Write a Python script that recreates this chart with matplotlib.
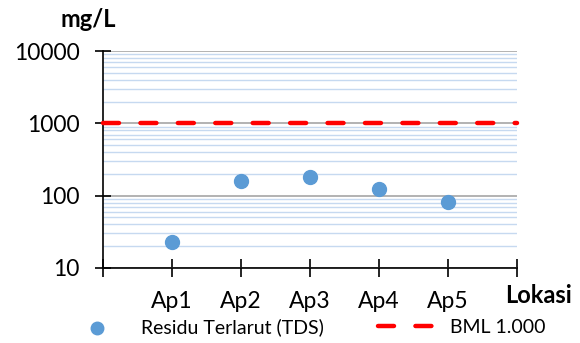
import numpy as np
import matplotlib.pyplot as plt
from matplotlib.ticker import LogLocator, NullFormatter, FixedLocator

lokasi = ["Ap1", "Ap2", "Ap3", "Ap4", "Ap5"]
tds = [23, 160, 180, 123, 82]      # mg/L
bml = 1000                         # baku mutu
x_edges = [0, 6]

plt.rcParams["font.family"] = ["Lato", "DejaVu Sans"]

fig = plt.figure(figsize=(5.8, 3.43), dpi=100)
ax = fig.add_axes([0.1776, 0.219, 0.713, 0.632])

ax.set_yscale("log")
ax.set_ylim(10, 10000)
ax.set_xlim(x_edges)

# grid: major gray, minor light blue
ax.yaxis.set_minor_locator(LogLocator(base=10, subs=np.arange(2, 10)))
ax.yaxis.set_minor_formatter(NullFormatter())
ax.grid(True, which="major", axis="y", color="#a6a6a6", lw=1.2, zorder=0)
ax.grid(True, which="minor", axis="y", color="#c6d9f0", lw=1.0, zorder=0)
ax.set_axisbelow(True)

xpos = np.arange(1, len(lokasi) + 1)
ax.plot(x_edges, [bml, bml], color="#ff0000", lw=3.2, ls=(0, (3.6, 4.82)),
        dash_capstyle="round", label="BML 1.000", zorder=3, clip_on=False)
ax.scatter(xpos, tds, s=100, color="#5b9bd5", zorder=4,
           label="Residu Terlarut (TDS)")

ax.xaxis.set_major_locator(FixedLocator(range(0, 7)))
ax.set_xticklabels([""] + lokasi + [""])
ax.tick_params(axis="x", which="major", direction="inout", length=13,
               width=1.2, labelsize=16.5, pad=10)
ax.tick_params(axis="y", which="major", direction="inout", length=11.5,
               width=1.2, labelsize=16.5, pad=11)
ax.tick_params(axis="y", which="minor", length=0)
ax.set_yticks([10, 100, 1000, 10000])
ax.set_yticklabels(["10", "100", "1000", "10000"])

for side in ("top", "right"):
    ax.spines[side].set_visible(False)
for side in ("left", "bottom"):
    ax.spines[side].set_linewidth(1.2)

fig.text(0.152, 0.942, "mg/L", fontsize=17, fontweight="bold", ha="center", va="center")
fig.text(0.986, 0.138, "Lokasi", fontsize=17, fontweight="bold", ha="right", va="center")

h, l = ax.get_legend_handles_labels()
fig.legend(h[::-1], l[::-1], loc="center", bbox_to_anchor=(0.53, 0.047), ncol=2,
           frameon=False, fontsize=14, handlelength=2.9, columnspacing=2.8,
           handletextpad=0.8, markerscale=0.9)

fig.savefig("out.png", dpi=100)
